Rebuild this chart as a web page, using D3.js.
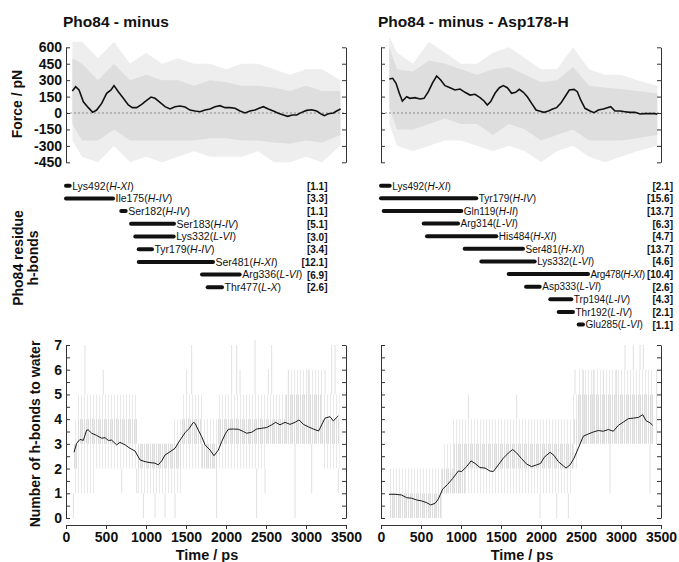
<!DOCTYPE html>
<html>
<head>
<meta charset="utf-8">
<script src="https://cdn.jsdelivr.net/npm/d3@7"></script>
<style>
  body { margin: 0; background: #fff; }
  text { font-family: "Liberation Sans", Arial, sans-serif; }
</style>
</head>
<body>
<script>
// ---- data ----
const titles = ["Pho84 - minus", "Pho84 - minus - Asp178-H"]

// running average of force, pN
const forceMinusT = [79,121,163,217,279,333,383,446,508,563,600,654,717,779,829,883,946,1008,1063,1113,1175,1238,1300,1363,1425,1488,1550,1613,1675,1738,1800,1863,1925,1988,2050,2113,2175,2238,2300,2363,2413,2467,2529,2592,2654,2717,2771,2829,2883,2946,3008,3071,3133,3196,3229,3279,3342,3383,3433]
const forceMinusV = [201,240,210,103,49,6,27,88,180,210,250,195,134,73,49,49,79,116,146,134,97,58,37,58,64,55,27,18,12,27,37,58,67,49,49,43,18,0,18,27,43,58,37,18,-3,-18,-30,-18,-18,6,24,30,18,-12,-24,-6,0,18,37]
const forceAspT = [104,146,188,229,267,321,363,425,488,538,592,646,696,746,800,863,925,988,1050,1113,1175,1238,1288,1329,1371,1425,1479,1529,1579,1633,1683,1729,1779,1829,1883,1938,1979,2038,2092,2146,2196,2246,2300,2354,2413,2454,2496,2550,2613,2663,2717,2779,2829,2871,2925,2988,3050,3113,3175,3238,3300,3363,3425,3454]
const forceAspV = [310,317,271,180,110,149,134,140,128,134,195,277,338,301,250,231,210,219,189,164,171,140,110,73,104,180,231,250,231,180,189,216,189,149,88,27,18,6,18,37,49,88,149,210,216,195,119,43,18,3,27,37,49,58,18,18,12,6,6,-9,-6,-6,-6,-12]

// spread of the raw force trace (outer spikes / dense core)
const forceMinusEnvT = [80,200,400,600,800,1000,1200,1400,1600,1800,2000,2200,2400,2600,2800,3000,3200,3430]
const forceMinusOuterHi = [650,650,500,650,450,550,450,500,450,450,400,450,450,400,350,400,400,300]
const forceMinusOuterLo = [-250,-400,-450,-300,-450,-400,-450,-400,-350,-400,-400,-400,-350,-450,-450,-400,-450,-300]
const forceMinusInnerHi = [500,450,300,450,300,350,300,300,250,300,280,250,250,230,200,250,200,200]
const forceMinusInnerLo = [-100,-250,-250,-150,-250,-250,-250,-250,-250,-230,-230,-250,-250,-270,-280,-250,-270,-200]
const forceAspEnvT = [104,200,400,600,800,1000,1200,1400,1600,1800,2000,2200,2400,2600,2800,3000,3200,3454]
const forceAspOuterHi = [700,550,450,650,550,450,450,550,600,500,400,400,600,400,350,350,300,250]
const forceAspOuterLo = [-100,-300,-350,-300,-250,-250,-300,-350,-300,-350,-450,-350,-300,-400,-450,-400,-350,-300]
const forceAspInnerHi = [600,400,380,480,450,400,350,400,420,350,280,300,420,250,230,220,200,180]
const forceAspInnerLo = [50,-150,-150,-100,-50,-100,-100,-200,-100,-150,-250,-200,-150,-250,-250,-250,-230,-200]

// residue h-bonds: name, helix, start ps, end ps, occupancy
const hbMinusName = ["Lys492","Ile175","Ser182","Ser183","Lys332","Tyr179","Ser481","Arg336","Thr477"]
const hbMinusHelix = ["H-XI","H-IV","H-IV","H-IV","L-VI","H-IV","H-XI","L-VI","L-X"]
const hbMinusStart = [0,0,691,813,866,909,909,1700,1771]
const hbMinusEnd = [46,588,746,1350,1346,1075,1838,2171,1950]
const hbMinusPct = ["1.1","3.3","1.1","5.1","3.0","3.4","12.1","6.9","2.6"]
const hbAspName = ["Lys492","Tyr179","Gln119","Arg314","His484","Ser481","Lys332","Arg478","Asp333","Trp194","Thr192","Glu285"]
const hbAspHelix = ["H-XI","H-IV","H-II","L-VI","H-XI","H-XI","L-VI","H-XI","L-VI","L-IV","L-IV","L-VI"]
const hbAspStart = [0,0,34,534,575,1046,1254,1596,1813,2116,2221,2471]
const hbAspEnd = [109,1191,1004,963,1441,1775,1921,2588,1984,2379,2400,2525]
const hbAspPct = ["2.1","15.6","13.7","6.3","4.7","13.7","4.6","10.4","2.6","4.3","2.1","1.1"]

// running average of h-bonds to water
const waterMinusT = [100,133,175,217,258,279,321,383,446,488,529,571,633,675,738,800,863,925,988,1050,1113,1154,1196,1238,1300,1363,1425,1488,1541,1592,1613,1654,1696,1738,1800,1850,1904,1946,1996,2029,2092,2154,2217,2258,2321,2383,2446,2508,2571,2621,2675,2738,2800,2863,2913,2967,3029,3092,3158,3196,3238,3300,3342,3404]
const waterMinusV = [2.66,3.02,3.18,3.14,3.56,3.56,3.43,3.34,3.23,3.25,3.14,3.15,2.96,3.06,2.96,2.82,2.71,2.35,2.28,2.24,2.22,2.15,2.31,2.55,2.68,2.82,3.15,3.45,3.63,3.87,3.83,3.56,3.29,2.96,2.75,2.52,2.75,3.09,3.43,3.59,3.6,3.59,3.5,3.43,3.47,3.6,3.63,3.66,3.77,3.87,3.77,3.87,3.79,3.87,3.97,3.79,3.69,3.6,3.52,3.77,4.04,4.1,3.93,4.13]
const waterAspT = [100,175,258,321,383,446,508,571,621,675,717,771,833,896,967,1008,1071,1125,1175,1238,1300,1363,1404,1467,1529,1592,1646,1696,1758,1821,1883,1946,1996,2038,2113,2163,2217,2279,2313,2363,2413,2467,2529,2592,2654,2717,2779,2842,2904,2967,3029,3092,3154,3217,3271,3313,3363,3396]
const waterAspV = [0.96,0.96,0.93,0.82,0.80,0.73,0.69,0.62,0.53,0.59,0.77,1.17,1.36,1.60,1.90,1.88,2.08,2.31,2.21,2.04,2.02,1.90,1.88,2.15,2.42,2.63,2.77,2.63,2.40,2.18,2.08,2.15,2.21,2.45,2.66,2.53,2.28,2.11,2.02,2.15,2.42,2.83,3.31,3.40,3.48,3.54,3.51,3.58,3.51,3.75,3.88,4.02,4.04,4.07,4.18,3.94,3.85,3.75]

// raw integer counts: range held from each time on, plus lone spikes [ps, count]
const waterMinusBandT = [100,150,350,900,1350,1450,1700,1900,2500,2750,3200,3420]
const waterMinusOuterLo = [1,1,2,1,1,2,2,2,3,3,2,2]
const waterMinusOuterHi = [4,5,5,3,4,5,4,5,5,6,5,5]
const waterMinusInnerLo = [2,3,3,2,2,3,2,3,3,3,3,3]
const waterMinusInnerHi = [3,4,4,3,3,4,3,4,4,5,4,4]
const waterMinusSpikes = [[92,0],[237,7],[258,1],[466,6],[696,1],[883,1],[967,0],[1113,0],[1238,0],[1363,0],[1508,6],[1571,7],[1883,0],[2071,7],[2133,7],[2175,6],[2363,7.2],[2383,0],[2488,1],[2529,6],[2571,7],[2779,6],[2863,0],[3029,6],[3071,1],[3238,6],[3321,7],[3363,7],[3404,1]]
const waterAspBandT = [100,760,900,1050,1250,2400,2450,3000,3400]
const waterAspOuterLo = [0,1,1,1,1,2,3,3,3]
const waterAspOuterHi = [2,3,4,4,4,5,6,6,6]
const waterAspInnerLo = [0,1,1,2,2,3,3,3,3]
const waterAspInnerHi = [1,2,3,3,3,4,5,5,5]
const waterAspSpikes = [[1092,5],[1696,5],[1988,0],[2196,0],[2342,0],[2425,6],[2529,6],[2654,6],[2779,6],[2863,1],[2946,6],[3050,7],[3154,7],[3238,7],[3279,7],[3363,1],[3446,6]]

const forceTicks = [-450,-300,-150,0,150,300,450,600]
const timeTicks = [0,500,1000,1500,2000,2500,3000,3500]
const waterTicks = d3.range(0, 7.01, 0.5)

// ---- layout ----
const [width, height] = [679, 562]
const cols = [{x0: 66, x1: 346}, {x0: 381, x1: 661}]
const colors = {
  ink: "#111", axis: "#333", zero: "#777",
  fEdge: "#eeeeee", fCore: "#dedede", spike: "#e0e0e0"
}

const yForce = d3.scaleLinear([-450, 600], [162.3, 47.3])
const yWater = d3.scaleLinear([0, 7], [518, 345])

const svg = d3.select("body").append("svg")
    .attr("width", width)
    .attr("height", height)
const defs = svg.append("defs")

// thin vertical hatch, like the raw integer trace
function stripes(id, color, step) {
  defs.append("pattern")
      .attr("id", id)
      .attr("patternUnits", "userSpaceOnUse")
      .attr("width", step).attr("height", 4)
    .append("rect")
      .attr("width", 1).attr("height", 4)
      .attr("fill", color)
}
stripes("wEdge", "#e9e9e9", 3)
stripes("wCore", "#dddddd", 2)

function styleAxis(g, labels) {
  g.select(".domain").attr("stroke", colors.axis)
  g.selectAll(".tick line").attr("stroke", colors.axis)
  g.selectAll(".tick text")
      .attr("fill", colors.ink)
      .attr("font-size", 14)
      .attr("font-weight", "bold")
      .style("display", labels ? null : "none")
}

// ---- titles + y labels ----
titles.forEach((t, i) => {
  svg.append("text")
      .attr("x", cols[i].x0 - 3).attr("y", 27)
      .attr("font-size", 15.5).attr("font-weight", "bold")
      .attr("fill", colors.ink)
      .text(t)
})

function yLabel(lines, x, y, gap) {
  const t = svg.append("text")
      .attr("transform", `translate(${x},${y}) rotate(-90)`)
      .attr("text-anchor", "middle")
      .attr("font-size", 14).attr("font-weight", "bold")
      .attr("fill", colors.ink)
  lines.forEach((l, i) => t.append("tspan").attr("x", 0).attr("y", i * gap).text(l))
}
yLabel(["Force / pN"], 22, 104, 0)
yLabel(["Pho84 residue", "h-bonds"], 23, 258, 15)
yLabel(["Number of h-bonds to water"], 40, 434, 0)

// ---- force panels ----
function forcePanel(c, T, V, envT, oHi, oLo, iHi, iLo, idx) {
  const x = d3.scaleLinear([0, 3500], [c.x0, c.x1])
  const clipId = "fclip" + idx
  defs.append("clipPath").attr("id", clipId)
    .append("rect").attr("x", c.x0).attr("y", 38).attr("width", c.x1 - c.x0).attr("height", 130)
  const g = svg.append("g").attr("clip-path", `url(#${clipId})`)

  const band = (hi, lo) => d3.area()
      .x((d, i) => x(envT[i]))
      .y0((d, i) => yForce(lo[i]))
      .y1((d, i) => yForce(hi[i]))(envT)
  g.append("path").attr("d", band(oHi, oLo)).attr("fill", colors.fEdge)
  g.append("path").attr("d", band(iHi, iLo)).attr("fill", colors.fCore)

  svg.append("line")
      .attr("x1", c.x0).attr("x2", c.x1)
      .attr("y1", yForce(0)).attr("y2", yForce(0))
      .attr("stroke", colors.zero).attr("stroke-width", 0.8)
      .attr("stroke-dasharray", "2,2")

  svg.append("path")
      .attr("d", d3.line().x((d, i) => x(T[i])).y((d, i) => yForce(V[i]))(T))
      .attr("fill", "none").attr("stroke", colors.ink).attr("stroke-width", 1.6)

  svg.append("g").attr("transform", `translate(${c.x0},0)`)
      .call(d3.axisLeft(yForce).tickValues(forceTicks).tickFormat(d => String(d))
        .tickSizeInner(-4).tickSizeOuter(0).tickPadding(4))
      .call(g => styleAxis(g, idx === 0))
  svg.append("g").attr("transform", `translate(${c.x1},0)`)
      .call(d3.axisRight(yForce).tickValues(forceTicks).tickSizeInner(-4).tickSizeOuter(0))
      .call(g => styleAxis(g, false))
}
forcePanel(cols[0], forceMinusT, forceMinusV, forceMinusEnvT, forceMinusOuterHi, forceMinusOuterLo, forceMinusInnerHi, forceMinusInnerLo, 0)
forcePanel(cols[1], forceAspT, forceAspV, forceAspEnvT, forceAspOuterHi, forceAspOuterLo, forceAspInnerHi, forceAspInnerLo, 1)

// ---- residue h-bond bars ----
function hbondPanel(c, names, helix, start, end, pct, yEnd, right, fs) {
  const x = d3.scaleLinear([0, 3500], [c.x0, c.x1])
  const y = d3.scalePoint(d3.range(names.length), [185.7, yEnd])
  const rows = svg.append("g").selectAll("g").data(names).enter().append("g")
  rows.append("line")
      .attr("x1", (d, i) => x(start[i])).attr("x2", (d, i) => x(end[i]))
      .attr("y1", (d, i) => y(i)).attr("y2", (d, i) => y(i))
      .attr("stroke", colors.ink).attr("stroke-width", 4).attr("stroke-linecap", "round")
  const pcts = rows.append("text")
      .attr("x", right).attr("y", (d, i) => y(i) + 4)
      .attr("text-anchor", "end")
      .attr("font-size", 10).attr("font-weight", "bold").attr("fill", colors.ink)
      .text((d, i) => `[${pct[i]}]`)
  const lab = rows.append("text")
      .attr("x", (d, i) => x(end[i]) + 2.5)
      .attr("y", (d, i) => y(i) + 3.8)
      .attr("font-size", fs).attr("fill", colors.ink)
  lab.append("tspan").text(d => d + "(")
  lab.append("tspan").attr("font-style", "italic").text((d, i) => helix[i])
  lab.append("tspan").text(")")
  // tighten a label that would run into its bracket
  lab.each(function (d, i) {
    const box = () => this.getBBox()
    const limit = pcts.nodes()[i].getBBox().x - 2
    if (box().x + box().width <= limit) return
    d3.select(this).attr("letter-spacing", -0.4)
    const b = box()
    if (b.x + b.width > limit) d3.select(this).attr("font-size", fs * (limit - b.x) / b.width)
  })
}
hbondPanel(cols[0], hbMinusName, hbMinusHelix, hbMinusStart, hbMinusEnd, hbMinusPct, 287.3, 327.5, 10.5)
hbondPanel(cols[1], hbAspName, hbAspHelix, hbAspStart, hbAspEnd, hbAspPct, 324.5, 673, 10)

// ---- water panels ----
function waterPanel(c, T, V, bandT, oLo, oHi, iLo, iHi, spikes, idx) {
  const x = d3.scaleLinear([0, 3500], [c.x0, c.x1])
  const g = svg.append("g")
  const band = (lo, hi) => d3.area().curve(d3.curveStepAfter)
      .x((d, i) => x(bandT[i]))
      .y0((d, i) => yWater(lo[i]))
      .y1((d, i) => yWater(hi[i]))(bandT)
  g.append("path").attr("d", band(oLo, oHi)).attr("fill", "url(#wEdge)")
  g.append("path").attr("d", band(iLo, iHi)).attr("fill", "url(#wCore)")

  const at = t => Math.max(0, d3.bisectRight(bandT, t) - 1)
  g.selectAll("line.spike").data(spikes).enter().append("line")
      .attr("x1", d => x(d[0])).attr("x2", d => x(d[0]))
      .attr("y1", d => yWater(d[1]))
      .attr("y2", d => yWater(d[1] > oHi[at(d[0])] ? oHi[at(d[0])] : oLo[at(d[0])]))
      .attr("stroke", colors.spike).attr("stroke-width", 1)

  svg.append("path")
      .attr("d", d3.line().x((d, i) => x(T[i])).y((d, i) => yWater(V[i]))(T))
      .attr("fill", "none").attr("stroke", "#1a1a1a").attr("stroke-width", 1)

  svg.append("g").attr("transform", `translate(${c.x0},0)`)
      .call(d3.axisLeft(yWater).tickValues(waterTicks)
        .tickFormat(d => Number.isInteger(d) ? String(d) : "")
        .tickSizeInner(-4).tickSizeOuter(0).tickPadding(4))
      .call(g => styleAxis(g, idx === 0))
  svg.append("g").attr("transform", `translate(${c.x1},0)`)
      .call(d3.axisRight(yWater).tickValues(waterTicks).tickSizeInner(-4).tickSizeOuter(0))
      .call(g => styleAxis(g, false))
  svg.append("g").attr("transform", "translate(0,525)")
      .call(d3.axisBottom(x).tickValues(timeTicks).tickFormat(d => String(d))
        .tickSizeInner(4).tickSizeOuter(0).tickPadding(3))
      .call(g => styleAxis(g, true))

  svg.append("text")
      .attr("x", (c.x0 + c.x1) / 2 + 1).attr("y", 559.5)
      .attr("text-anchor", "middle")
      .attr("font-size", 14.5).attr("font-weight", "bold").attr("fill", colors.ink)
      .text("Time / ps")
}
waterPanel(cols[0], waterMinusT, waterMinusV, waterMinusBandT, waterMinusOuterLo, waterMinusOuterHi, waterMinusInnerLo, waterMinusInnerHi, waterMinusSpikes, 0)
waterPanel(cols[1], waterAspT, waterAspV, waterAspBandT, waterAspOuterLo, waterAspOuterHi, waterAspInnerLo, waterAspInnerHi, waterAspSpikes, 1)
</script>
</body>
</html>
